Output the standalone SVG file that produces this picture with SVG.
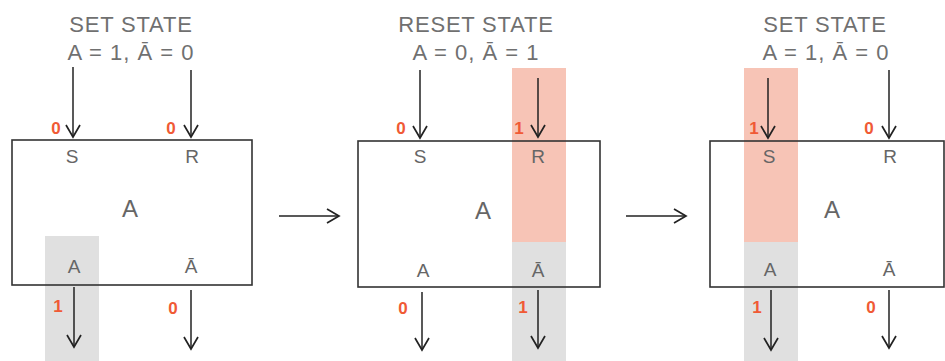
<svg xmlns="http://www.w3.org/2000/svg" width="945" height="361" viewBox="0 0 945 361">
<defs>
<marker id="ah" markerWidth="16" markerHeight="16" viewBox="0 0 16 16" refX="14" refY="8" orient="auto" markerUnits="userSpaceOnUse">
<path d="M2,1 L14,8 L2,15" fill="none" stroke="#222" stroke-width="1.7"/>
</marker>
<style>
.box{fill:none;stroke:#333;stroke-width:1.6}
.ar{stroke:#222;stroke-width:1.5;fill:none;marker-end:url(#ah)}
.t{font-family:"Liberation Sans",Arial,sans-serif;fill:#707070;text-anchor:middle}
.title{font-size:22px;letter-spacing:0.8px}
.eq{font-size:22px;letter-spacing:1px}
.pin{font-size:19px;fill:#666}
.big{font-size:24px;fill:#666}
.v{font-family:"Liberation Sans",Arial,sans-serif;font-size:17px;font-weight:bold;fill:#f05a35;text-anchor:middle}
.red{fill:#f7c4b6}
.gray{fill:#e0e0e0}
</style>
</defs>
<rect width="945" height="361" fill="#fff"/>

<g id="panel1">
<rect class="gray" x="45" y="236" width="54" height="125"/>
<rect class="box" x="12" y="140" width="240" height="145"/>
<text class="t title" x="131" y="32">SET STATE</text>
<text class="t eq" x="131" y="60">A = 1, Ā = 0</text>
<text class="t pin" x="72" y="163">S</text>
<text class="t pin" x="192" y="163">R</text>
<text class="t big" x="130" y="217">A</text>
<text class="t pin" x="74" y="273">A</text>
<text class="t pin" x="191" y="273">Ā</text>
<text class="v" x="56" y="134">0</text>
<text class="v" x="171" y="134">0</text>
<text class="v" x="58" y="312">1</text>
<text class="v" x="173" y="314">0</text>
</g>

<g id="panel2">
<rect class="red" x="512" y="68" width="54" height="174"/>
<rect class="gray" x="512" y="242" width="54" height="119"/>
<rect class="box" x="358" y="141" width="242" height="146"/>
<text class="t title" x="476" y="32">RESET STATE</text>
<text class="t eq" x="476" y="60">A = 0, Ā = 1</text>
<text class="t pin" x="420" y="163">S</text>
<text class="t pin" x="538" y="163">R</text>
<text class="t big" x="483" y="219">A</text>
<text class="t pin" x="423" y="277">A</text>
<text class="t pin" x="538" y="277">Ā</text>
<text class="v" x="401" y="134">0</text>
<text class="v" x="519" y="134">1</text>
<text class="v" x="403" y="314">0</text>
<text class="v" x="523" y="313">1</text>
</g>

<g id="panel3">
<rect class="red" x="744" y="68" width="54" height="174"/>
<rect class="gray" x="744" y="242" width="54" height="119"/>
<rect class="box" x="710" y="141" width="234" height="146"/>
<text class="t title" x="825" y="32">SET STATE</text>
<text class="t eq" x="826" y="60">A = 1, Ā = 0</text>
<text class="t pin" x="769" y="163">S</text>
<text class="t pin" x="890" y="163">R</text>
<text class="t big" x="832" y="218">A</text>
<text class="t pin" x="770" y="276">A</text>
<text class="t pin" x="889" y="276">Ā</text>
<text class="v" x="754" y="134">1</text>
<text class="v" x="869" y="134">0</text>
<text class="v" x="757" y="313">1</text>
<text class="v" x="871" y="313">0</text>
</g>

<g id="connectors">
<line class="ar" x1="73" y1="67" x2="73" y2="137"/>
<line class="ar" x1="191" y1="70" x2="191" y2="137"/>
<line class="ar" x1="74" y1="287" x2="74" y2="347"/>
<line class="ar" x1="191" y1="290" x2="191" y2="349"/>
<line class="ar" x1="279" y1="216" x2="339" y2="216"/>
<line class="ar" x1="420" y1="70" x2="420" y2="138"/>
<line class="ar" x1="538" y1="78" x2="538" y2="137"/>
<line class="ar" x1="422" y1="292" x2="422" y2="350"/>
<line class="ar" x1="538" y1="290" x2="538" y2="348"/>
<line class="ar" x1="626" y1="216" x2="686" y2="216"/>
<line class="ar" x1="768" y1="78" x2="768" y2="138"/>
<line class="ar" x1="889" y1="70" x2="889" y2="138"/>
<line class="ar" x1="771" y1="290" x2="771" y2="350"/>
<line class="ar" x1="889" y1="290" x2="889" y2="348"/>
</g>
</svg>
